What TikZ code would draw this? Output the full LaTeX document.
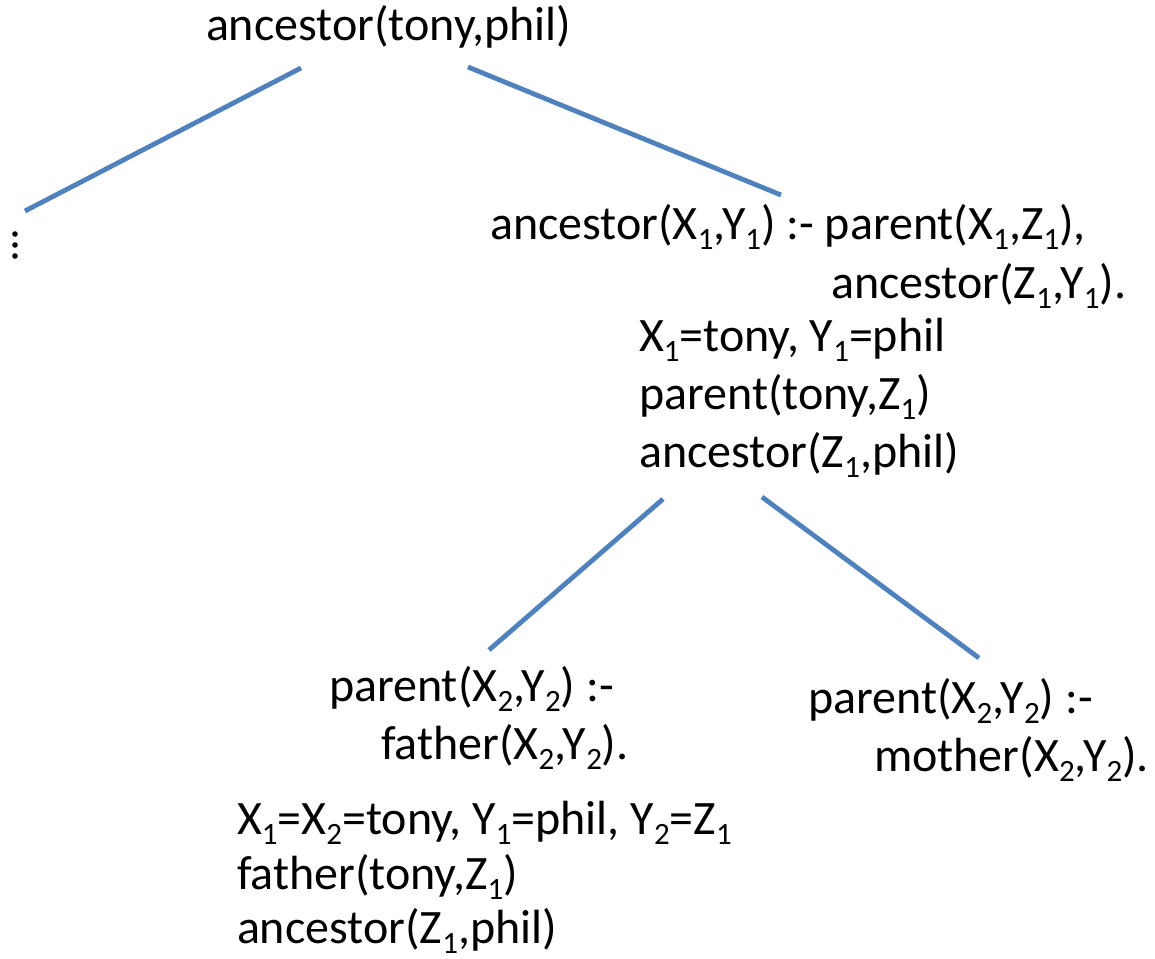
\documentclass[tikz,border=0pt]{standalone}
\usepackage{fontspec}
\setmainfont{Carlito}
\newcommand\lo[1]{\raisebox{-0.21em}{\fontsize{31}{31}\selectfont #1}}
\definecolor{edgeblue}{HTML}{4F81BD}
\begin{document}
\begin{tikzpicture}[x=1pt,y=-1pt,
  term/.style={anchor=base west,inner sep=0pt,outer sep=0pt,
    font=\fontsize{48}{58}\selectfont},
  branch/.style={draw=edgeblue,line width=4.8pt}]
\useasboundingbox (0,0) rectangle (1155,958);

% goal at the root
\node[term] (root) at (206,41) {ancestor(tony,phil)};

% first resolution: the recursive clause
\node[term] (rc1) at (490,239) {ancestor(X\lo{1},Y\lo{1}) :- parent(X\lo{1},Z\lo{1}),};
\node[term] (rc2) at (831,298) {ancestor(Z\lo{1},Y\lo{1}).};
\node[term] (rb1) at (639,351) {X\lo{1}=tony, Y\lo{1}=phil};
\node[term] (rb2) at (639,409) {parent(tony,Z\lo{1})};
\node[term] (rb3) at (639,467) {ancestor(Z\lo{1},phil)};

% second level: the two parent clauses
\node[term] (fa1) at (329,701) {parent(X\lo{2},Y\lo{2}) :-};
\node[term] (fa2) at (381,759) {father(X\lo{2},Y\lo{2}).};
\node[term] (mo1) at (808,713) {parent(X\lo{2},Y\lo{2}) :-};
\node[term] (mo2) at (874,771) {mother(X\lo{2},Y\lo{2}).};
\node[term] (fb1) at (237,834) {X\lo{1}=X\lo{2}=tony, Y\lo{1}=phil, Y\lo{2}=Z\lo{1}};
\node[term] (fb2) at (237,889) {father(tony,Z\lo{1})};
\node[term] (fb3) at (237,943) {ancestor(Z\lo{1},phil)};

% branch end points
\coordinate (rootL) at (301,68);
\coordinate (omitted) at (25,211);
\coordinate (rootR) at (468,67);
\coordinate (recTop) at (781,195);
\coordinate (recL) at (663,499);
\coordinate (fatTop) at (489,650);
\coordinate (recR) at (762,497);
\coordinate (motTop) at (979,658);

\draw[branch] (rootL) -- (omitted);
\draw[branch] (rootR) -- (recTop);
\draw[branch] (recL) -- (fatTop);
\draw[branch] (recR) -- (motTop);

% elided first branch
\foreach \yy in {234,245,256}
  \fill (15,\yy) circle (2.8);
\end{tikzpicture}
\end{document}
